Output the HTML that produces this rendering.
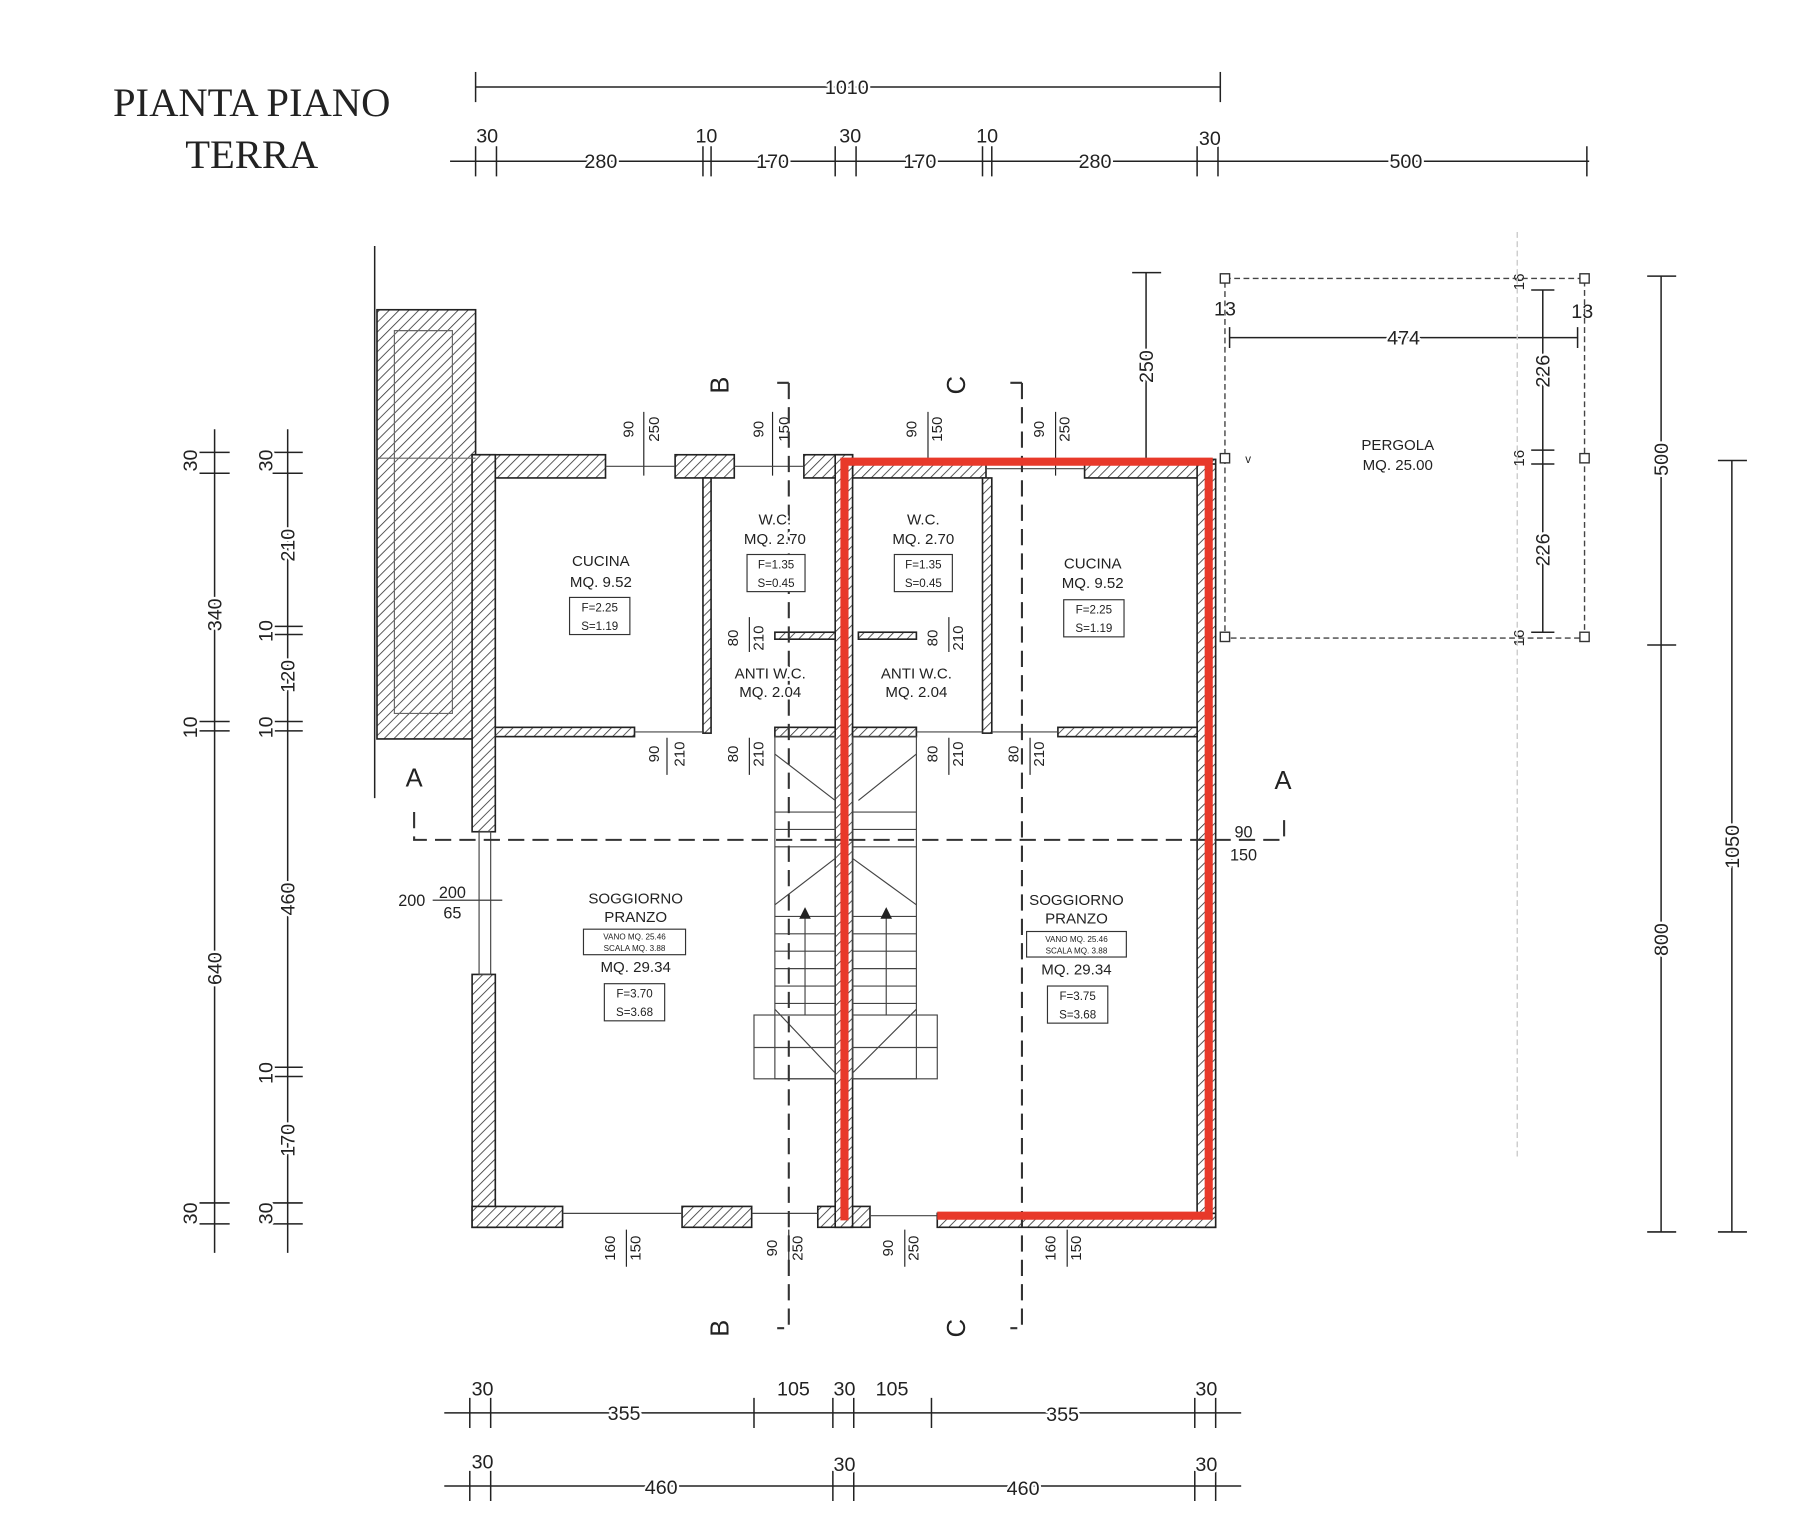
<!DOCTYPE html>
<html><head><meta charset="utf-8"><style>html,body{margin:0;padding:0;background:#fff}svg{display:block}
text{font-family:"Liberation Sans",sans-serif;fill:#222;paint-order:stroke;stroke:#fff;stroke-width:4px;stroke-linejoin:round}
.t text{stroke:none}</style></head><body>
<svg width="1809" height="1536" viewBox="0 0 1559.5 1324.1" xmlns="http://www.w3.org/2000/svg">
<defs><pattern id="h" patternUnits="userSpaceOnUse" width="6" height="6" patternTransform="rotate(45)"><rect width="6" height="6" fill="#fff"/><line x1="0" y1="0" x2="0" y2="6" stroke="#333" stroke-width="1.4"/></pattern></defs>
<rect width="1559.5" height="1324.1" fill="#fff"/>
<g class="t">
<text x="217" y="100" font-size="35" text-anchor="middle" style="font-family:'Liberation Serif',serif">PIANTA PIANO</text>
<text x="217" y="145" font-size="35" text-anchor="middle" style="font-family:'Liberation Serif',serif">TERRA</text>
</g>

<g stroke="#222" stroke-width="1.3" fill="none">
<line x1="410" y1="75" x2="1052" y2="75"/><line x1="410" y1="62" x2="410" y2="88"/><line x1="1052" y1="62" x2="1052" y2="88"/>
<line x1="388" y1="139" x2="1370" y2="139"/>
<path d="M410 126v26M428 126v26M606 126v26M613 126v26M720 126v26M738 126v26M847 126v26M855 126v26M1032 126v26M1050 126v26M1368 126v26"/>
<line x1="383" y1="1218" x2="1070" y2="1218"/>
<path d="M405 1205v26M423 1205v26M650 1205v26M718 1205v26M736 1205v26M803 1205v26M1030 1205v26M1048 1205v26"/>
<line x1="383" y1="1281" x2="1070" y2="1281"/>
<path d="M405 1268v26M423 1268v26M718 1268v26M736 1268v26M1030 1268v26M1048 1268v26"/>
<line x1="185" y1="370" x2="185" y2="1080"/>
<path d="M172 390h26M172 408h26M172 622h26M172 630h26M172 1037h26M172 1055h26"/>
<line x1="248" y1="370" x2="248" y2="1080"/>
<path d="M235 390h26M235 408h26M235 540h26M235 547h26M235 622h26M235 630h26M235 920h26M235 928h26M235 1037h26M235 1055h26"/>
<line x1="1432" y1="238" x2="1432" y2="1062"/><path d="M1420 238h25M1420 556h25M1420 1062h25"/>
<line x1="1493" y1="397" x2="1493" y2="1062"/><path d="M1481 397h25M1481 1062h25"/>
<line x1="988" y1="235" x2="988" y2="395"/><path d="M976 235h25"/>
<line x1="1060" y1="291" x2="1360" y2="291"/><path d="M1060 282v18M1360 282v18"/>
<line x1="1330" y1="250" x2="1330" y2="545"/><path d="M1320 250h20M1320 388h20M1320 400h20M1320 545h20"/>
<line x1="323" y1="212" x2="323" y2="688"/>
</g>
<g font-size="17" text-anchor="middle">
<text x="730" y="81">1010</text>
<text x="518" y="145">280</text><text x="666" y="145">170</text><text x="793" y="145">170</text><text x="944" y="145">280</text><text x="1212" y="145">500</text>
<text x="420" y="123">30</text><text x="609" y="123">10</text><text x="733" y="123">30</text><text x="851" y="123">10</text><text x="1043" y="125">30</text>
<text x="538" y="1224">355</text><text x="916" y="1225">355</text><text x="684" y="1203">105</text><text x="769" y="1203">105</text>
<text x="416" y="1203">30</text><text x="728" y="1203">30</text><text x="1040" y="1203">30</text>
<text x="570" y="1288">460</text><text x="882" y="1289">460</text>
<text x="416" y="1266">30</text><text x="728" y="1268">30</text><text x="1040" y="1268">30</text>
<text x="1210" y="297">474</text><text x="1056" y="272">13</text><text x="1364" y="274">13</text>
<text x="1205" y="388" font-size="13">PERGOLA</text><text x="1205" y="405" font-size="13">MQ. 25.00</text>
<text x="355" y="781" font-size="14">200</text><text x="390" y="774" font-size="14">200</text><text x="390" y="792" font-size="14">65</text>
<text x="1072" y="722" font-size="14">90</text><text x="1072" y="742" font-size="14">150</text>
</g>
<g font-size="17" text-anchor="middle">
<text transform="translate(191,530) rotate(-90)">340</text>
<text transform="translate(191,835) rotate(-90)">640</text>
<text transform="translate(254,470) rotate(-90)">210</text>
<text transform="translate(254,583) rotate(-90)">120</text>
<text transform="translate(254,775) rotate(-90)">460</text>
<text transform="translate(254,983) rotate(-90)">170</text>
<text transform="translate(170,397) rotate(-90)">30</text><text transform="translate(235,397) rotate(-90)">30</text>
<text transform="translate(170,627) rotate(-90)">10</text><text transform="translate(235,627) rotate(-90)">10</text>
<text transform="translate(235,544) rotate(-90)">10</text><text transform="translate(235,925) rotate(-90)">10</text>
<text transform="translate(170,1046) rotate(-90)">30</text><text transform="translate(235,1046) rotate(-90)">30</text>
<text transform="translate(1438,396) rotate(-90)">500</text>
<text transform="translate(1438,810) rotate(-90)">800</text>
<text transform="translate(1499,730) rotate(-90)">1050</text>
<text transform="translate(994,316) rotate(-90)">250</text>
<text transform="translate(1336,320) rotate(-90)">226</text>
<text transform="translate(1336,474) rotate(-90)">226</text>
<text transform="translate(1314,243) rotate(-90)" font-size="13">16</text>
<text transform="translate(1314,395) rotate(-90)" font-size="13">16</text>
<text transform="translate(1314,550) rotate(-90)" font-size="13">16</text>
</g>
<g stroke="#222" stroke-width="1">
<path d="M555 355v55M666 355v55M800 355v55M910 355v55M575 636v32M646 636v32M818 636v32M888 636v32M646 532v30M818 532v30M540 1060v32M680 1060v32M780 1060v32M920 1060v32M373 776h60"/>
</g>
<g font-size="13" text-anchor="middle" class="t">
<text transform="translate(546,370) rotate(-90)">90</text><text transform="translate(568,370) rotate(-90)">250</text>
<text transform="translate(658,370) rotate(-90)">90</text><text transform="translate(680,370) rotate(-90)">150</text>
<text transform="translate(790,370) rotate(-90)">90</text><text transform="translate(812,370) rotate(-90)">150</text>
<text transform="translate(900,370) rotate(-90)">90</text><text transform="translate(922,370) rotate(-90)">250</text>
<text transform="translate(636,550) rotate(-90)">80</text><text transform="translate(658,550) rotate(-90)">210</text>
<text transform="translate(808,550) rotate(-90)">80</text><text transform="translate(830,550) rotate(-90)">210</text>
<text transform="translate(568,650) rotate(-90)">90</text><text transform="translate(590,650) rotate(-90)">210</text>
<text transform="translate(636,650) rotate(-90)">80</text><text transform="translate(658,650) rotate(-90)">210</text>
<text transform="translate(808,650) rotate(-90)">80</text><text transform="translate(830,650) rotate(-90)">210</text>
<text transform="translate(878,650) rotate(-90)">80</text><text transform="translate(900,650) rotate(-90)">210</text>
<text transform="translate(530,1076) rotate(-90)">160</text><text transform="translate(552,1076) rotate(-90)">150</text>
<text transform="translate(670,1076) rotate(-90)">90</text><text transform="translate(692,1076) rotate(-90)">250</text>
<text transform="translate(770,1076) rotate(-90)">90</text><text transform="translate(792,1076) rotate(-90)">250</text>
<text transform="translate(910,1076) rotate(-90)">160</text><text transform="translate(932,1076) rotate(-90)">150</text>
</g>

<g stroke="#444" stroke-width="1.2" stroke-dasharray="5 3" fill="none">
<rect x="1056" y="240" width="310" height="310"/>
<line x1="1308" y1="200" x2="1308" y2="1000" stroke="#ccc"/>
</g>
<g fill="#fff" stroke="#333" stroke-width="1.2"><rect x="1052" y="236" width="8" height="8"/><rect x="1362" y="236" width="8" height="8"/><rect x="1052" y="391" width="8" height="8"/><rect x="1362" y="391" width="8" height="8"/><rect x="1052" y="545" width="8" height="8"/><rect x="1362" y="545" width="8" height="8"/></g>

<g fill="url(#h)" stroke="#222" stroke-width="1.4">
<rect x="325" y="267" width="85" height="370"/>
<rect x="407" y="392" width="115" height="20"/>
<rect x="582" y="392" width="51" height="20"/>
<rect x="693" y="392" width="42" height="20"/>
<rect x="735" y="400" width="115" height="12"/>
<rect x="935" y="396" width="113" height="16"/>
<rect x="407" y="392" width="20" height="325"/>
<rect x="407" y="840" width="20" height="218"/>
<rect x="1032" y="400" width="16" height="658"/>
<rect x="407" y="1040" width="78" height="18"/>
<rect x="588" y="1040" width="60" height="18"/>
<rect x="705" y="1040" width="45" height="18"/>
<rect x="808" y="1046" width="240" height="12"/>
<rect x="720" y="392" width="15" height="666"/>
<rect x="606" y="412" width="7" height="220"/>
<rect x="847" y="412" width="8" height="220"/>
<rect x="427" y="627" width="120" height="8"/>
<rect x="668" y="627" width="52" height="8"/>
<rect x="735" y="627" width="55" height="8"/>
<rect x="912" y="627" width="120" height="8"/>
<rect x="668" y="545" width="52" height="6"/>
<rect x="740" y="545" width="50" height="6"/>
</g>
<g stroke="#444" stroke-width="1" fill="none">
<rect x="413" y="717" width="10" height="123"/>
<path d="M522 402h60M633 402h60M850 404h85M485 1046h103M648 1046h57M750 1048h58M547 631h60M790 631h57M855 631h57"/>
<path d="M340 285h50v330h-50zM325 395h85" stroke="#666"/>
</g>
<g stroke="#444" stroke-width="1" fill="none">
<rect x="668" y="635" width="52" height="295"/><rect x="735" y="635" width="55" height="295"/>
<rect x="650" y="875" width="70" height="55"/><rect x="735" y="875" width="73" height="55"/>
<path d="M668 790h52M668 805h52M668 820h52M668 835h52M668 850h52M668 865h52M735 790h55M735 805h55M735 820h55M735 835h55M735 850h55M735 865h55M668 700h52M668 715h52M668 730h52M735 700h55M735 715h55M735 730h55M650 903h70M735 903h73"/>
<path d="M668 780L720 740M790 780L735 740M668 870L720 925M790 870L735 925M668 650L720 690M790 650L740 690M694 790v85M764 790v85"/>
</g>
<path d="M689 792l5-10 5 10z M759 792l5-10 5 10z" fill="#222"/>

<g stroke="#333" stroke-width="1.8" stroke-dasharray="14 7" fill="none">
<path d="M357 700v24h750v-24"/>
<path d="M680 330v815h-10M680 330h-10"/>
<path d="M881 330v815h-10M881 330h-10"/>
</g>
<g font-size="22" text-anchor="middle" class="t">
<text x="357" y="678">A</text><text x="1106" y="680">A</text>
<text transform="translate(628,332) rotate(-90)">B</text><text transform="translate(628,1145) rotate(-90)">B</text>
<text transform="translate(832,332) rotate(-90)">C</text><text transform="translate(832,1145) rotate(-90)">C</text>
</g>

<g font-size="13" text-anchor="middle">
<text x="518" y="488">CUCINA</text><text x="518" y="506">MQ. 9.52</text>
<text x="668" y="452">W.C.</text><text x="668" y="469">MQ. 2.70</text>
<text x="796" y="452">W.C.</text><text x="796" y="469">MQ. 2.70</text>
<text x="942" y="490">CUCINA</text><text x="942" y="507">MQ. 9.52</text>
<text x="664" y="585">ANTI W.C.</text><text x="664" y="601">MQ. 2.04</text>
<text x="790" y="585">ANTI W.C.</text><text x="790" y="601">MQ. 2.04</text>
<text x="548" y="779">SOGGIORNO</text><text x="548" y="795">PRANZO</text><text x="548" y="838">MQ. 29.34</text>
<text x="928" y="780">SOGGIORNO</text><text x="928" y="796">PRANZO</text><text x="928" y="840">MQ. 29.34</text>
<text x="1076" y="399" font-size="10">v</text>
</g>
<g stroke="#333" stroke-width="1" fill="#fff">
<rect x="491" y="515" width="52" height="32"/><rect x="644" y="478" width="50" height="32"/><rect x="771" y="478" width="50" height="32"/><rect x="917" y="517" width="52" height="32"/>
<rect x="521" y="848" width="52" height="32"/><rect x="903" y="850" width="52" height="32"/>
<rect x="503" y="801" width="88" height="22"/><rect x="885" y="803" width="86" height="22"/>
</g>
<g font-size="10" text-anchor="middle" class="t">
<text x="517" y="527">F=2.25</text><text x="517" y="543">S=1.19</text>
<text x="669" y="490">F=1.35</text><text x="669" y="506">S=0.45</text>
<text x="796" y="490">F=1.35</text><text x="796" y="506">S=0.45</text>
<text x="943" y="529">F=2.25</text><text x="943" y="545">S=1.19</text>
<text x="547" y="860">F=3.70</text><text x="547" y="876">S=3.68</text>
<text x="929" y="862">F=3.75</text><text x="929" y="878">S=3.68</text>
<text x="547" y="810" font-size="7">VANO MQ. 25.46</text><text x="547" y="820" font-size="7">SCALA MQ. 3.88</text>
<text x="928" y="812" font-size="7">VANO MQ. 25.46</text><text x="928" y="822" font-size="7">SCALA MQ. 3.88</text>
</g>

<path d="M728 1052V398H1042V1048H808" fill="none" stroke="#e8392a" stroke-width="7"/>
</svg>
</body></html>
